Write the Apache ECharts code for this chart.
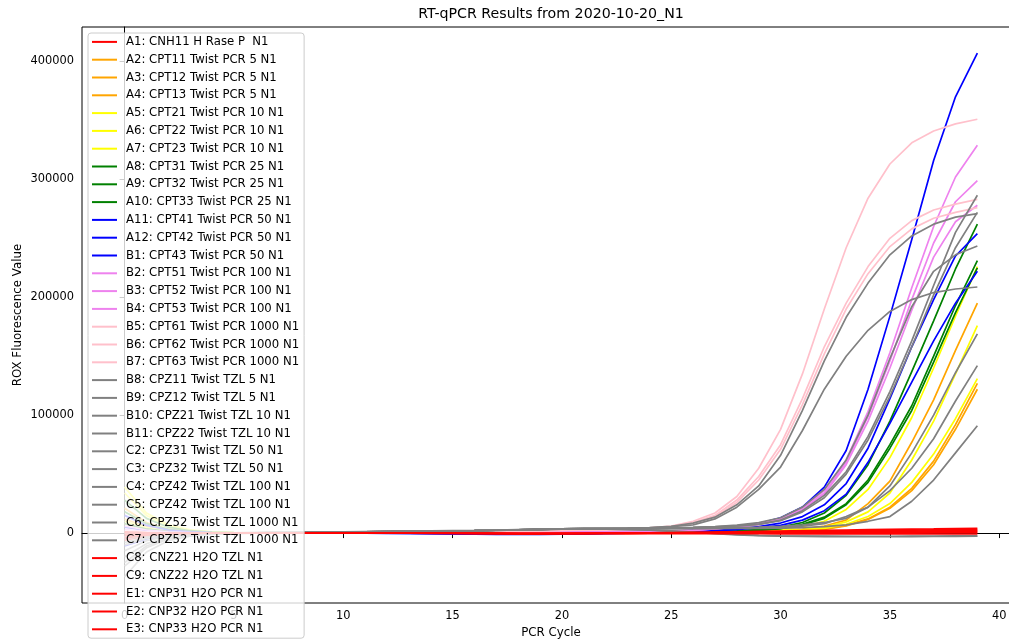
<!DOCTYPE html>
<html><head><meta charset="utf-8">
<script src="https://cdn.jsdelivr.net/npm/echarts@6/dist/echarts.min.js"></script>
<style>html,body{margin:0;padding:0;background:#fff}#c{width:1009px;height:641px}</style>
</head><body><div id="c"></div>
<script>
const cycles = [0,1,2,3,4,5,6,7,8,9,10,11,12,13,14,15,16,17,18,19,20,21,22,23,24,25,26,27,28,29,30,31,32,33,34,35,36,37,38,39];
const xTicks = [0,5,10,15,20,25,30,35,40];
const yTicks = [0,100000,200000,300000,400000];

const seriesNames = [
  "A1: CNH11 H Rase P  N1","A2: CPT11 Twist PCR 5 N1","A3: CPT12 Twist PCR 5 N1","A4: CPT13 Twist PCR 5 N1",
  "A5: CPT21 Twist PCR 10 N1","A6: CPT22 Twist PCR 10 N1","A7: CPT23 Twist PCR 10 N1",
  "A8: CPT31 Twist PCR 25 N1","A9: CPT32 Twist PCR 25 N1","A10: CPT33 Twist PCR 25 N1",
  "A11: CPT41 Twist PCR 50 N1","A12: CPT42 Twist PCR 50 N1","B1: CPT43 Twist PCR 50 N1",
  "B2: CPT51 Twist PCR 100 N1","B3: CPT52 Twist PCR 100 N1","B4: CPT53 Twist PCR 100 N1",
  "B5: CPT61 Twist PCR 1000 N1","B6: CPT62 Twist PCR 1000 N1","B7: CPT63 Twist PCR 1000 N1",
  "B8: CPZ11 Twist TZL 5 N1","B9: CPZ12 Twist TZL 5 N1","B10: CPZ21 Twist TZL 10 N1","B11: CPZ22 Twist TZL 10 N1",
  "C2: CPZ31 Twist TZL 50 N1","C3: CPZ32 Twist TZL 50 N1","C4: CPZ42 Twist TZL 100 N1","C5: CPZ42 Twist TZL 100 N1",
  "C6: CPZ52 Twist TZL 1000 N1","C7: CPZ52 Twist TZL 1000 N1",
  "C8: CNZ21 H2O TZL N1","C9: CNZ22 H2O TZL N1","E1: CNP31 H2O PCR N1","E2: CNP32 H2O PCR N1","E3: CNP33 H2O PCR N1"
];
const seriesColors = [
  "#ff0000","#ffa500","#ffa500","#ffa500",
  "#ffff00","#ffff00","#ffff00",
  "#008000","#008000","#008000",
  "#0000ff","#0000ff","#0000ff",
  "#ee82ee","#ee82ee","#ee82ee",
  "#ffc0cb","#ffc0cb","#ffc0cb",
  "#808080","#808080","#808080","#808080",
  "#808080","#808080","#808080","#808080",
  "#808080","#808080",
  "#ff0000","#ff0000","#ff0000","#ff0000","#ff0000"
];

const vA1 = [-6000,-2500,-1000,-400,-100,0,100,100,200,200,300,300,300,300,200,200,100,0,-100,-200,-300,-300,-200,-200,-100,-100,0,100,200,300,400,500,500,600,700,800,900,1000,1100,1200];
const vA2 = [12000,5500,2200,900,400,200,100,100,100,200,200,200,300,300,300,300,300,300,300,300,400,400,400,500,500,600,700,800,1000,1400,2000,3300,6000,11000,25000,44000,77000,113000,155000,195000];
const vA3 = [8000,3500,1500,600,200,100,0,0,100,100,100,200,200,200,200,200,200,300,300,300,300,300,400,400,400,500,500,600,700,900,1200,2000,3500,6500,12000,22000,38000,61000,92000,127000];
const vA4 = [21000,9000,3500,1400,500,200,100,100,100,100,200,200,200,200,200,200,300,300,300,300,300,300,300,400,400,400,500,600,700,800,1000,1800,3200,6000,11500,21000,36000,58000,88000,122000];
const vA5 = [39000,17000,7000,2800,1100,400,200,100,100,100,200,200,200,300,300,300,300,300,300,400,400,400,500,500,600,700,800,1000,1300,1800,3000,5500,10000,20000,37000,64000,98000,140000,184000,226000];
const vA6 = [34000,15000,6000,2400,900,300,100,100,100,100,200,200,200,200,300,300,300,300,300,300,300,400,400,400,500,500,600,700,900,1200,2000,3000,5000,9500,18000,34000,62000,95000,135000,176000];
const vA7 = [10000,4500,1800,700,300,100,0,0,100,100,100,100,200,200,200,200,200,200,300,300,300,300,300,300,400,400,500,600,700,1000,1500,2200,4000,7500,14000,25000,43000,67000,97000,131000];
const vA8 = [28000,12500,5000,2000,800,300,100,100,100,200,200,200,300,300,300,300,400,400,400,400,500,500,600,600,700,800,1000,1300,1800,3000,5000,9000,17000,32000,58000,95000,137000,180000,224000,262000];
const vA9 = [18000,8000,3200,1300,500,200,100,100,100,100,200,200,200,300,300,300,300,300,400,400,400,500,500,500,600,700,800,1000,1500,2500,4000,7500,13500,25000,45000,75000,108000,150000,193000,231000];
const vA10 = [8000,3500,1400,600,200,100,0,0,100,100,100,200,200,200,200,300,300,300,300,300,400,400,400,500,500,600,700,900,1400,2300,3800,7000,12500,24000,43000,72000,104000,145000,187000,225000];
const vA11 = [15000,6500,2600,1000,400,100,0,0,0,0,0,-100,-200,-300,-500,-700,-900,-1100,-1200,-1100,-900,-600,-300,0,500,1200,2500,3500,5000,8000,13000,22000,39000,70000,122000,184000,249000,316000,370000,407000];
const vA12 = [-11000,-5000,-2000,-800,-300,-100,0,0,0,0,0,0,-100,-200,-300,-500,-700,-800,-900,-800,-600,-400,-200,0,400,900,1600,2500,3500,5500,8500,14000,24000,42000,72000,114000,158000,198000,235000,254000];
const vB1 = [5000,2200,900,400,100,0,0,0,0,0,0,0,-100,-100,-200,-300,-500,-600,-700,-600,-500,-300,-100,100,400,800,1300,2000,3000,4500,6500,11000,19000,33000,60000,93000,128000,163000,195000,222000];
const vB2 = [3000,1300,500,200,100,0,100,100,200,200,300,300,400,400,500,500,600,700,800,900,1000,1100,1200,1300,1500,1800,2500,3800,5500,8000,12500,21000,36000,62000,103000,153000,208000,260000,302000,329000];
const vB3 = [-4000,-1800,-700,-300,-100,0,100,100,200,200,300,300,400,400,500,500,600,700,800,900,1000,1100,1200,1300,1500,1700,2400,3600,5200,7500,12000,20000,34000,60000,99000,146000,198000,246000,281000,299000];
const vB4 = [6000,2600,1000,400,200,100,100,100,200,200,300,300,300,400,400,500,600,700,800,900,1000,1100,1200,1300,1400,1700,2300,3500,5000,7200,11500,19000,33000,58000,95000,140000,189000,234000,264000,278000];
const vB5 = [1000,500,200,100,100,100,200,300,400,500,600,700,800,900,1000,1100,1300,1500,1800,2100,2400,2700,3000,3500,4500,6000,10000,17000,31000,55000,88000,135000,190000,242000,284000,313000,331000,341000,347000,351000];
const vB6 = [-3000,-1300,-500,-200,0,100,200,300,400,500,600,700,800,900,1000,1100,1300,1500,1700,2000,2300,2600,2900,3300,4200,5500,9000,15000,28000,48000,75000,114000,158000,195000,226000,250000,265000,274000,279000,283000];
const vB7 = [2000,900,400,200,100,100,200,300,400,500,600,700,800,900,1000,1100,1200,1400,1600,1900,2200,2500,2800,3200,4000,5000,8500,14000,26000,45000,71000,109000,152000,190000,220000,243000,258000,267000,272000,276000];
const vB8 = [-37000,-16000,-6500,-2600,-1000,-300,0,200,400,600,800,1000,1200,1400,1600,1800,2000,2300,2700,3100,3400,3600,3700,3700,3700,3700,3700,3800,3900,4000,4200,4600,5500,7000,10000,14000,27000,45000,68000,91000];
const vB9 = [-28000,-12500,-5000,-2000,-800,-200,0,200,400,600,800,1000,1200,1400,1600,1800,2000,2300,2600,3000,3300,3400,3300,3000,2400,1500,500,-500,-1500,-2200,-2600,-2800,-3000,-3000,-3100,-3100,-3000,-2900,-2800,-2700];
const vB10 = [-20000,-9000,-3600,-1400,-500,-100,100,300,500,700,900,1100,1300,1500,1700,1900,2100,2400,2800,3200,3500,3700,3800,3800,3800,3900,4000,4100,4300,4600,5000,5800,8000,14000,22000,36000,55000,80000,112000,142000];
const vB11 = [-10000,-4500,-1800,-700,-200,0,100,300,500,700,900,1100,1300,1500,1700,1900,2100,2400,2800,3200,3500,3700,3800,3800,3900,4000,4100,4300,4600,5000,5800,7000,9000,12500,22000,40000,68000,100000,136000,169000];
const vC2 = [-15000,-6500,-2600,-1000,-400,-100,100,300,500,700,900,1100,1300,1500,1700,1900,2100,2400,2700,3100,3400,3500,3400,3200,2700,1800,800,-300,-1200,-1900,-2300,-2500,-2600,-2700,-2700,-2700,-2600,-2500,-2400,-2300];
const vC3 = [-5000,-2200,-900,-300,-100,0,200,400,600,800,1000,1200,1400,1600,1800,2000,2200,2500,2900,3300,3600,3800,3900,4000,4100,4300,4800,5600,6800,8800,13000,22000,37000,62000,100000,148000,192000,222000,236000,243500];
const vC4 = [-25000,-11000,-4500,-1800,-700,-200,100,300,500,700,900,1100,1300,1500,1700,1900,2100,2400,2800,3200,3500,3700,3800,3900,4000,4200,4600,5200,6000,7500,11000,19000,32000,52000,82000,120000,163000,210000,255000,286500];
const vC5 = [-8000,-3500,-1400,-600,-200,0,100,300,500,700,900,1100,1300,1500,1700,1900,2100,2400,2800,3200,3500,3700,3800,3900,4000,4200,4600,5200,6000,7400,10500,18000,30000,50000,79000,116000,158000,202000,242000,272000];
const vC6 = [0,0,100,100,100,200,300,400,500,700,900,1100,1300,1500,1700,1900,2100,2400,2800,3200,3500,3700,3900,4100,4600,5800,8500,13500,24000,40000,66000,104000,146000,183000,212000,236000,252000,262000,268000,271000];
const vC7 = [-3000,-1300,-500,-200,0,200,300,400,500,700,900,1100,1300,1500,1700,1900,2100,2400,2800,3200,3500,3700,3900,4100,4500,5400,7000,12000,22000,37000,56000,87000,122000,150000,172000,188000,198000,204000,207000,208700];
const vC8 = [-2000,-800,-300,-100,0,0,100,100,100,200,200,200,200,200,100,100,0,-100,-200,-300,-300,-200,-100,0,100,300,500,800,1100,1400,1700,2000,2300,2600,2900,3100,3300,3500,3800,4000];
const vC9 = [1000,400,200,100,0,0,0,100,100,100,200,200,200,200,100,0,-100,-200,-300,-300,-200,-200,-100,0,100,200,400,600,900,1100,1300,1500,1700,1900,2100,2300,2500,2700,2900,3000];
const vE1 = [-4000,-1700,-700,-300,-100,0,0,0,100,100,100,100,100,0,0,-100,-200,-300,-400,-400,-300,-200,-100,0,100,200,300,400,600,700,900,1000,1200,1300,1400,1600,1700,1800,1900,2000];
const vE2 = [-1000,-400,-200,-100,0,0,0,0,0,100,100,100,0,0,-100,-200,-300,-400,-500,-500,-400,-300,-200,-200,-100,-100,0,0,100,100,200,200,300,300,300,400,400,400,500,500];
const vE3 = [500,200,100,0,0,0,0,0,0,0,0,0,-100,-100,-200,-300,-400,-500,-600,-600,-500,-500,-400,-400,-400,-400,-400,-500,-500,-500,-600,-600,-600,-700,-700,-700,-700,-800,-800,-800];

const seriesValues = [vA1,vA2,vA3,vA4,vA5,vA6,vA7,vA8,vA9,vA10,vA11,vA12,vB1,vB2,vB3,vB4,vB5,vB6,vB7,
  vB8,vB9,vB10,vB11,vC2,vC3,vC4,vC5,vC6,vC7,vC8,vC9,vE1,vE2,vE3];

const FONT = 'DejaVu Sans';
const chart = echarts.init(document.getElementById('c'), null, {renderer: 'canvas'});
chart.setOption({
  animation: false,
  backgroundColor: '#ffffff',
  textStyle: {fontFamily: FONT},
  title: {
    text: 'RT-qPCR Results from 2020-10-20_N1',
    left: 551, top: 7, textAlign: 'center', padding: 0,
    textStyle: {fontSize: 14.2, fontWeight: 'normal', color: '#000', fontFamily: FONT}
  },
  grid: {left: 82, top: 27, right: -11, bottom: 38, show: true, borderColor: '#000', borderWidth: 1,
    backgroundColor: 'transparent', containLabel: false, outerBoundsMode: 'none'},
  xAxis: {
    type: 'value', min: -1.95, max: 40.95,
    name: 'PCR Cycle', nameLocation: 'middle', nameGap: 24, nameMoveOverlap: false,
    nameTextStyle: {fontSize: 11.8, color: '#000', fontFamily: FONT},
    axisLine: {show: true, lineStyle: {color: '#000', width: 1}},
    axisTick: {show: true, length: 5, customValues: xTicks, lineStyle: {color: '#000'}},
    axisLabel: {customValues: xTicks, margin: 8, color: '#000', fontSize: 11.4, fontFamily: FONT,
      formatter: v => String(v)},
    splitLine: {show: false}
  },
  yAxis: {
    type: 'value', min: -59300, max: 429200,
    name: 'ROX Fluorescence Value', nameLocation: 'middle', nameGap: 58, nameRotate: 90, nameMoveOverlap: false,
    nameTextStyle: {fontSize: 11.8, color: '#000', fontFamily: FONT},
    axisLine: {show: true, lineStyle: {color: '#000', width: 1}},
    axisTick: {show: true, length: 5, customValues: yTicks, lineStyle: {color: '#000'}},
    axisLabel: {customValues: yTicks, margin: 8, color: '#000', fontSize: 11.4, fontFamily: FONT,
      formatter: v => String(v)},
    splitLine: {show: false}
  },
  legend: {
    orient: 'vertical', left: 88, top: 33, height: 640, padding: [0, 5, 0, 4],
    itemGap: 0, itemWidth: 25, itemHeight: 2, icon: 'rect', selectedMode: false,
    backgroundColor: 'rgba(255,255,255,0.8)', borderColor: '#cccccc', borderWidth: 1, borderRadius: 3,
    textStyle: {fontSize: 11.7, color: '#000', lineHeight: 17.8, padding: [0, 0, 0, 4], fontFamily: FONT},
    data: seriesNames
  },
  series: seriesNames.map((n, i) => ({
    name: n, type: 'line',
    data: cycles.map((c, j) => [c, seriesValues[i][j]]),
    showSymbol: false, symbol: 'none', silent: true,
    color: seriesColors[i],
    lineStyle: {width: 1.7, color: seriesColors[i]},
    emphasis: {disabled: true}
  }))
});
</script></body></html>
